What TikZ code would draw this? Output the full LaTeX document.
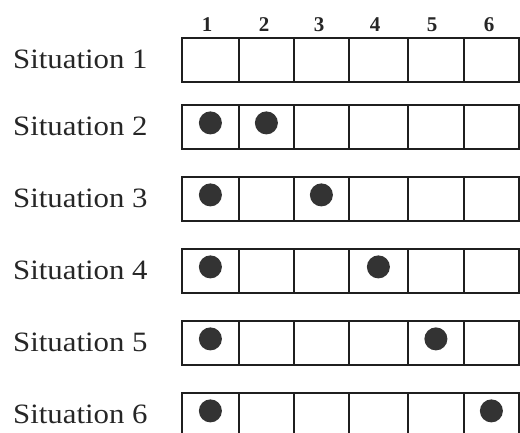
\documentclass[tikz,border=0pt]{standalone}
\usepackage{fontspec}
\setmainfont{Liberation Serif}
\begin{document}
\begin{tikzpicture}[x=1pt,y=-1pt,
  cell/.style={draw=black!88, line width=1.8pt, minimum height=44pt, inner sep=0pt, anchor=north west},
  dot/.style={circle, fill=black!80, minimum size=23pt, inner sep=0pt},
  lab/.style={anchor=west, inner sep=0pt, font=\fontsize{28}{30}\selectfont, text=black!85},
  num/.style={inner sep=0pt, font=\fontsize{21}{24}\selectfont\bfseries, text=black!85}]
\useasboundingbox (0,0) rectangle (520,432);
\clip (0,0) rectangle (520,432);
\fill[white] (0,0) rectangle (520,432);
% column numbers
\node[num] (n1) at (207,25) {1};
\node[num] (n2) at (264,25) {2};
\node[num] (n3) at (319,25) {3};
\node[num] (n4) at (375,25) {4};
\node[num] (n5) at (432,25) {5};
\node[num] (n6) at (489,25) {6};
% rows
\foreach \r/\t in {1/37,2/104,3/176,4/248,5/320,6/392}{
  \node[lab] (s\r) at (13,\t+22) {\scalebox{1.1}[1]{Situation \r}};
  \foreach \c/\x/\w in {1/181/57,2/238/55,3/293/55,4/348/59,5/407/56,6/463/55}{
    \node[cell, minimum width=\w pt] (c\r\c) at (\x,\t) {};
  }
}
% dots
\node[dot] (d21) at ([yshift=4pt]c21.center) {};
\node[dot] (d22) at ([yshift=4pt]c22.center) {};
\node[dot] (d31) at ([yshift=4pt]c31.center) {};
\node[dot] (d33) at ([yshift=4pt]c33.center) {};
\node[dot] (d41) at ([yshift=4pt]c41.center) {};
\node[dot] (d44) at ([yshift=4pt]c44.center) {};
\node[dot] (d51) at ([yshift=4pt]c51.center) {};
\node[dot] (d55) at ([yshift=4pt]c55.center) {};
\node[dot] (d61) at ([yshift=4pt]c61.center) {};
\node[dot] (d66) at ([yshift=4pt]c66.center) {};
\end{tikzpicture}
\end{document}
